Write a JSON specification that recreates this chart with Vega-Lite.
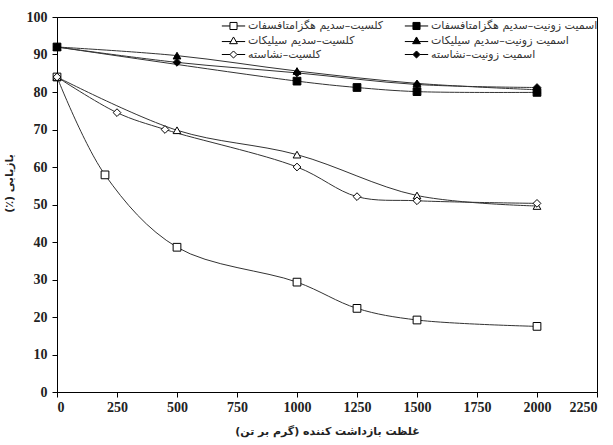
{
  "$schema": "https://vega.github.io/schema/vega-lite/v6.json",
  "width": 540,
  "height": 375,
  "autosize": {"type": "none"},
  "padding": {"left": 57, "top": 17, "right": 16, "bottom": 53},
  "background": "white",
  "config": {
    "view": {"stroke": "black", "strokeWidth": 1},
    "axis": {
      "domainColor": "black",
      "tickColor": "black",
      "grid": false,
      "labelFont": "Liberation Serif",
      "labelFontWeight": "bold",
      "labelFontSize": 14,
      "labelColor": "#222",
      "titleFont": "DejaVu Sans",
      "titleFontWeight": "bold",
      "titleFontSize": 11,
      "titleColor": "#222",
      "tickSize": 5
    }
  },
  "data": {
    "values": [
      {"series": "کلسیت–سدیم هگزامتافسفات", "dose": 0, "recovery": 84.0},
      {"series": "کلسیت–سدیم هگزامتافسفات", "dose": 200, "recovery": 57.9},
      {"series": "کلسیت–سدیم هگزامتافسفات", "dose": 500, "recovery": 38.6},
      {"series": "کلسیت–سدیم هگزامتافسفات", "dose": 1000, "recovery": 29.3},
      {"series": "کلسیت–سدیم هگزامتافسفات", "dose": 1250, "recovery": 22.3},
      {"series": "کلسیت–سدیم هگزامتافسفات", "dose": 1500, "recovery": 19.2},
      {"series": "کلسیت–سدیم هگزامتافسفات", "dose": 2000, "recovery": 17.5},
      {"series": "کلسیت–سدیم سیلیکات", "dose": 0, "recovery": 84.0},
      {"series": "کلسیت–سدیم سیلیکات", "dose": 500, "recovery": 69.8},
      {"series": "کلسیت–سدیم سیلیکات", "dose": 1000, "recovery": 63.3},
      {"series": "کلسیت–سدیم سیلیکات", "dose": 1500, "recovery": 52.4},
      {"series": "کلسیت–سدیم سیلیکات", "dose": 2000, "recovery": 49.6},
      {"series": "کلسیت–نشاسته", "dose": 0, "recovery": 84.0},
      {"series": "کلسیت–نشاسته", "dose": 250, "recovery": 74.5},
      {"series": "کلسیت–نشاسته", "dose": 450, "recovery": 70.0},
      {"series": "کلسیت–نشاسته", "dose": 1000, "recovery": 60.0},
      {"series": "کلسیت–نشاسته", "dose": 1250, "recovery": 52.1},
      {"series": "کلسیت–نشاسته", "dose": 1500, "recovery": 51.0},
      {"series": "کلسیت–نشاسته", "dose": 2000, "recovery": 50.3},
      {"series": "اسمیت زونیت–سدیم هگزامتافسفات", "dose": 0, "recovery": 92.0},
      {"series": "اسمیت زونیت–سدیم هگزامتافسفات", "dose": 1000, "recovery": 82.9},
      {"series": "اسمیت زونیت–سدیم هگزامتافسفات", "dose": 1250, "recovery": 81.2},
      {"series": "اسمیت زونیت–سدیم هگزامتافسفات", "dose": 1500, "recovery": 80.1},
      {"series": "اسمیت زونیت–سدیم هگزامتافسفات", "dose": 2000, "recovery": 79.9},
      {"series": "اسمیت زونیت–سدیم سیلیکات", "dose": 0, "recovery": 92.0},
      {"series": "اسمیت زونیت–سدیم سیلیکات", "dose": 500, "recovery": 89.7},
      {"series": "اسمیت زونیت–سدیم سیلیکات", "dose": 1000, "recovery": 85.6},
      {"series": "اسمیت زونیت–سدیم سیلیکات", "dose": 1500, "recovery": 82.3},
      {"series": "اسمیت زونیت–سدیم سیلیکات", "dose": 2000, "recovery": 80.6},
      {"series": "اسمیت زونیت–نشاسته", "dose": 0, "recovery": 92.0},
      {"series": "اسمیت زونیت–نشاسته", "dose": 500, "recovery": 87.9},
      {"series": "اسمیت زونیت–نشاسته", "dose": 1000, "recovery": 85.1},
      {"series": "اسمیت زونیت–نشاسته", "dose": 1500, "recovery": 82.0},
      {"series": "اسمیت زونیت–نشاسته", "dose": 2000, "recovery": 81.2}
    ]
  },
  "encoding": {
    "x": {
      "field": "dose",
      "type": "quantitative",
      "scale": {"domain": [0, 2250], "nice": false},
      "axis": {
        "values": [0, 250, 500, 750, 1000, 1250, 1500, 1750, 2000, 2250],
        "format": "d",
        "title": "غلظت بازداشت کننده (گرم بر تن)‏",
        "labelPadding": 3,
        "titlePadding": 11
      }
    },
    "y": {
      "field": "recovery",
      "type": "quantitative",
      "scale": {"domain": [0, 100], "nice": false},
      "axis": {
        "values": [0, 10, 20, 30, 40, 50, 60, 70, 80, 90, 100],
        "title": "بازیابی (٪)‏",
        "labelPadding": 5,
        "titlePadding": 12,
        "titleY": 166
      }
    }
  },
  "layer": [
    {
      "mark": {"type": "line", "interpolate": "catmull-rom", "color": "#333", "strokeWidth": 1},
      "encoding": {"detail": {"field": "series"}}
    },
    {
      "mark": {"type": "point", "filled": true, "stroke": "black", "strokeWidth": 1, "size": 60, "opacity": 1},
      "encoding": {
        "shape": {
          "field": "series",
          "type": "nominal",
          "scale": {
            "domain": ["کلسیت–سدیم هگزامتافسفات", "کلسیت–سدیم سیلیکات", "کلسیت–نشاسته", "اسمیت زونیت–سدیم هگزامتافسفات", "اسمیت زونیت–سدیم سیلیکات", "اسمیت زونیت–نشاسته"],
            "range": ["square", "triangle-up", "diamond", "square", "triangle-up", "diamond"]
          },
          "legend": null
        },
        "fill": {
          "field": "series",
          "type": "nominal",
          "scale": {
            "domain": ["کلسیت–سدیم هگزامتافسفات", "کلسیت–سدیم سیلیکات", "کلسیت–نشاسته", "اسمیت زونیت–سدیم هگزامتافسفات", "اسمیت زونیت–سدیم سیلیکات", "اسمیت زونیت–نشاسته"],
            "range": ["white", "white", "white", "black", "black", "black"]
          },
          "legend": null
        }
      }
    },
    {
      "transform": [{"filter": "datum.dose < 0"}],
      "mark": {"type": "point", "filled": true, "size": 50, "strokeWidth": 1},
      "encoding": {
        "shape": {
          "field": "series",
          "type": "nominal",
          "scale": {
            "domain": ["کلسیت–سدیم هگزامتافسفات", "کلسیت–سدیم سیلیکات", "کلسیت–نشاسته", "اسمیت زونیت–سدیم هگزامتافسفات", "اسمیت زونیت–سدیم سیلیکات", "اسمیت زونیت–نشاسته"],
            "range": [
              "M-3.3,0H-1M1,0H3.3M-1,-1H1V1H-1Z",
              "M-3.3,0.3H-0.65M0.65,0.3H3.3M0,-1L1.1,0.9H-1.1Z",
              "M-3.3,0H-1M1,0H3.3M0,-1L1,0L0,1L-1,0Z",
              "M-3.3,0H-1M1,0H3.3M-1,-1H1V1H-1Z",
              "M-3.3,0.3H-0.65M0.65,0.3H3.3M0,-1L1.1,0.9H-1.1Z",
              "M-3.3,0H-1M1,0H3.3M0,-1L1,0L0,1L-1,0Z"
            ]
          },
          "legend": {
            "title": null,
            "orient": "none",
            "legendX": 159,
            "legendY": 3,
            "columns": 2,
            "columnPadding": 15,
            "rowPadding": 2,
            "padding": 0,
            "labelFont": "DejaVu Sans",
            "labelFontSize": 11,
            "labelColor": "#333",
            "labelLimit": 250,
            "symbolSize": 50,
            "symbolStrokeWidth": 1,
            "symbolOpacity": 1,
            "labelOffset": 9,
            "symbolOffset": 12
          }
        },
        "fill": {
          "field": "series",
          "type": "nominal",
          "scale": {
            "domain": ["کلسیت–سدیم هگزامتافسفات", "کلسیت–سدیم سیلیکات", "کلسیت–نشاسته", "اسمیت زونیت–سدیم هگزامتافسفات", "اسمیت زونیت–سدیم سیلیکات", "اسمیت زونیت–نشاسته"],
            "range": ["white", "white", "white", "black", "black", "black"]
          }
        },
        "stroke": {
          "field": "series",
          "type": "nominal",
          "scale": {
            "domain": ["کلسیت–سدیم هگزامتافسفات", "کلسیت–سدیم سیلیکات", "کلسیت–نشاسته", "اسمیت زونیت–سدیم هگزامتافسفات", "اسمیت زونیت–سدیم سیلیکات", "اسمیت زونیت–نشاسته"],
            "range": ["black", "black", "black", "black", "black", "black"]
          }
        }
      }
    }
  ],
  "resolve": {"scale": {"shape": "independent", "fill": "independent", "stroke": "independent"}}
}
